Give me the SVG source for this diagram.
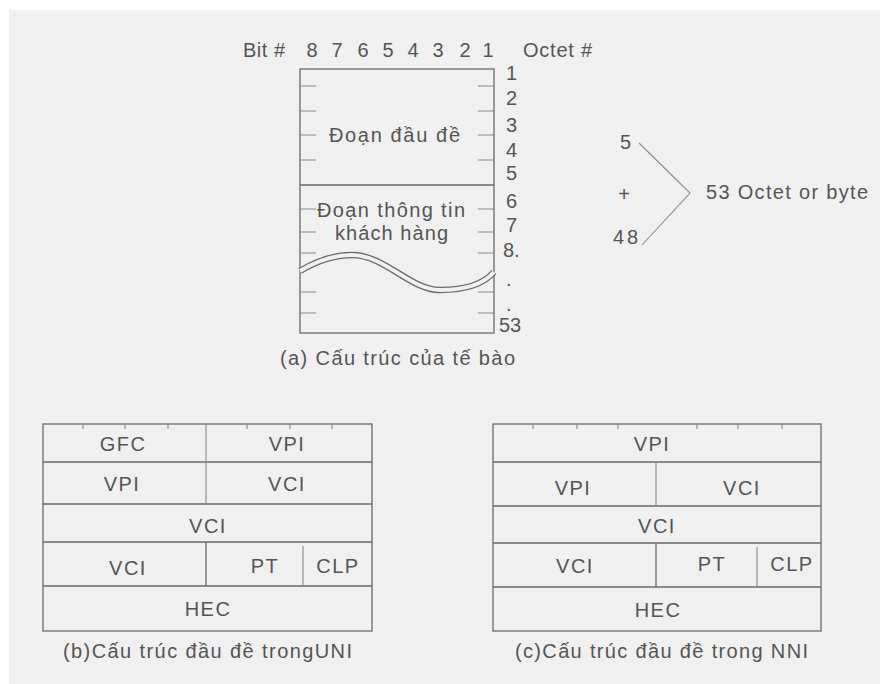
<svg xmlns="http://www.w3.org/2000/svg" width="880" height="684" viewBox="0 0 880 684">
<style>
.t{font-family:"Liberation Sans",Arial,sans-serif;fill:#555555;font-size:20px}
.m{text-anchor:middle}
.k{letter-spacing:1.5px}
.ln{stroke:#6a6a6a;stroke-width:1.3;fill:none}
.lt{stroke:#8a8a8a;stroke-width:1.1;fill:none}
</style>
<rect x="0" y="0" width="880" height="684" fill="#ffffff"/>
<rect x="9" y="10" width="871" height="674" fill="#f0f0f0"/>

<g id="cell-a">
  <text class="t" x="243" y="57" font-size="18" textLength="42" lengthAdjust="spacing">Bit #</text>
  <g class="t m" font-size="20">
    <text x="312" y="57">8</text><text x="337" y="57">7</text><text x="363" y="57">6</text><text x="388" y="57">5</text>
    <text x="413" y="57">4</text><text x="438" y="57">3</text><text x="465" y="57">2</text><text x="488" y="57">1</text>
  </g>
  <text class="t" x="523" y="57" font-size="15" textLength="69" lengthAdjust="spacing">Octet #</text>
  <rect class="ln" x="300" y="69" width="194" height="264"/>
  <line class="ln" x1="300" y1="185" x2="494" y2="185"/>
  <path class="lt" d="M300,86h16M300,111h16M300,135h16M300,160h16M300,209h16M300,232h16M300,253h16M300,292h16M300,313h16
                      M478,86h16M478,111h16M478,135h16M478,160h16M478,209h16M478,232h16M478,253h16M478,292h16M478,313h16"/>
  <path d="M300,271 C318,260 335,255 352,255 C385,255 410,290 440,290 C462,290 482,286 494,272" fill="none" stroke="#6a6a6a" stroke-width="6.5"/>
  <path d="M300,271 C318,260 335,255 352,255 C385,255 410,290 440,290 C462,290 482,286 494,272" fill="none" stroke="#f0f0f0" stroke-width="4"/>
  <g class="t" font-size="19">
    <text x="506" y="80">1</text><text x="506" y="105">2</text><text x="506" y="132">3</text><text x="506" y="157">4</text>
    <text x="506" y="180">5</text><text x="506" y="208">6</text><text x="506" y="232">7</text><text x="503" y="257">8.</text>
    <text x="506" y="286">.</text><text x="506" y="311">.</text><text x="499" y="332">53</text>
  </g>
  <text class="t" x="329" y="142" textLength="131" lengthAdjust="spacing">Đoạn đầu đề</text>
  <text class="t" x="317" y="217" textLength="148" lengthAdjust="spacing">Đoạn thông tin</text>
  <text class="t" x="335" y="240" textLength="113" lengthAdjust="spacing">khách hàng</text>
  <text class="t" x="280" y="365" textLength="235" lengthAdjust="spacing">(a) Cấu trúc của tế bào</text>
</g>

<g id="sum">
  <text class="t" x="620" y="149" font-size="19">5</text>
  <text class="t m" x="624" y="201" font-size="17">+</text>
  <text class="t" x="613" y="244" font-size="19" textLength="25" lengthAdjust="spacing">48</text>
  <text class="t" x="706" y="199" textLength="162" lengthAdjust="spacing">53 Octet or byte</text>
</g>

<g id="connectors">
  <polyline class="lt" points="639,143 690,193 642,245"/>
</g>

<g id="table-b">
  <rect class="ln" x="43" y="424" width="329" height="207"/>
  <path class="ln" d="M43,462H372M43,504H372M43,542H372M43,586H372"/>
  <path class="lt" d="M206,424V504M303,546V586"/>
  <path class="ln" d="M206,542V586"/>
  <path class="lt" d="M83,424v5M125,424v5M168,424v5M247,424v5M290,424v5M332,424v5"/>
  <g class="t m k">
    <text x="123" y="451">GFC</text><text x="287" y="451">VPI</text>
    <text x="122" y="491">VPI</text><text x="287" y="491">VCI</text>
    <text x="208" y="533">VCI</text>
    <text x="128" y="575">VCI</text><text x="265" y="573">PT</text><text x="338" y="573">CLP</text>
    <text x="208" y="616">HEC</text>
  </g>
  <text class="t" x="63" y="658" textLength="289" lengthAdjust="spacing">(b)Cấu trúc đầu đề trongUNI</text>
</g>

<g id="table-c">
  <rect class="ln" x="493" y="424" width="328" height="207"/>
  <path class="ln" d="M493,462H821M493,506H821M493,543H821M493,587H821"/>
  <path class="lt" d="M656,462V506M757,547V587"/>
  <path class="ln" d="M656,543V587"/>
  <path class="lt" d="M533,424v5M577,424v5M618,424v5M697,424v5M738,424v5M782,424v5"/>
  <g class="t m k">
    <text x="652" y="451">VPI</text>
    <text x="573" y="495">VPI</text><text x="742" y="495">VCI</text>
    <text x="657" y="533">VCI</text>
    <text x="575" y="573">VCI</text><text x="712" y="571">PT</text><text x="792" y="571">CLP</text>
    <text x="658" y="617">HEC</text>
  </g>
  <text class="t" x="515" y="658" textLength="293" lengthAdjust="spacing">(c)Cấu trúc đầu đề trong NNI</text>
</g>
</svg>
